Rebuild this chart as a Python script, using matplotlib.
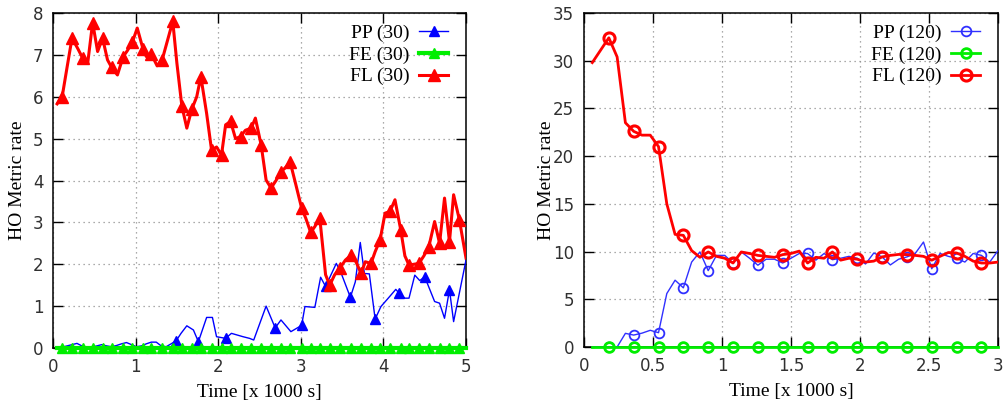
import numpy as np
import matplotlib
matplotlib.use("Agg")
import matplotlib.pyplot as plt
from matplotlib.lines import Line2D

# ---- left panel: 30 ----
fl30_t = [0.05, 0.11, 0.17, 0.23, 0.30, 0.36, 0.42, 0.48, 0.54, 0.60,
          0.66, 0.71, 0.78, 0.85, 0.90, 0.96, 1.02, 1.09, 1.13, 1.19,
          1.26, 1.32, 1.38, 1.45, 1.50, 1.56, 1.62, 1.68, 1.74, 1.79,
          1.86, 1.92, 1.98, 2.04, 2.09, 2.15, 2.21, 2.27, 2.33, 2.40,
          2.45, 2.52, 2.58, 2.64, 2.70, 2.76, 2.81, 2.87, 2.94, 3.01,
          3.06, 3.12, 3.17, 3.23, 3.30, 3.35, 3.41, 3.47, 3.54, 3.61,
          3.67, 3.73, 3.78, 3.85, 3.90, 3.96, 4.02, 4.08, 4.14, 4.21,
          4.26, 4.31, 4.37, 4.43, 4.49, 4.55, 4.62, 4.68, 4.74, 4.80,
          4.85, 4.92, 5.00]
fl30_v = [5.83, 5.99, 6.70, 7.40, 7.15, 6.92, 6.80, 7.77, 7.08, 7.40,
          6.88, 6.70, 6.52, 6.96, 7.10, 7.30, 7.64, 7.14, 6.96, 7.02,
          6.74, 6.87, 7.30, 7.80, 6.80, 5.78, 5.25, 5.70, 6.00, 6.48,
          5.60, 4.72, 4.80, 4.61, 5.33, 5.41, 5.00, 5.05, 5.20, 5.25,
          5.49, 4.85, 4.01, 3.82, 4.00, 4.21, 4.30, 4.45, 3.90, 3.34,
          3.10, 2.76, 2.90, 3.10, 1.75, 1.50, 1.75, 1.90, 2.10, 2.22,
          2.05, 1.78, 2.06, 2.02, 2.30, 2.58, 3.22, 3.26, 3.54, 2.82,
          2.20, 1.98, 2.00, 2.02, 2.20, 2.42, 3.02, 2.50, 3.58, 2.54,
          3.66, 3.06, 2.15]
fe30_v = [0.0] * len(fl30_t)

pp30_t = [0.05, 0.11, 0.17, 0.23, 0.29, 0.35, 0.41, 0.47, 0.53, 0.59,
          0.65, 0.71, 0.77, 0.83, 0.89, 0.95, 1.01, 1.07, 1.13, 1.19,
          1.25, 1.31, 1.37, 1.43, 1.49, 1.55, 1.62, 1.70, 1.76, 1.86,
          1.93, 1.98, 2.09, 2.16, 2.30, 2.38, 2.43, 2.58, 2.69, 2.76,
          2.88, 3.01, 3.05, 3.17, 3.24, 3.30, 3.43, 3.49, 3.60, 3.66,
          3.72, 3.77, 3.83, 3.90, 3.97, 4.05, 4.15, 4.19, 4.26, 4.31,
          4.38, 4.44, 4.50, 4.62, 4.68, 4.74, 4.80, 4.85, 5.00]
pp30_v = [0.00, 0.02, 0.05, 0.08, 0.11, 0.05, 0.00, 0.02, 0.05, 0.08,
          0.05, 0.03, 0.06, 0.10, 0.13, 0.08, 0.03, 0.05, 0.10, 0.14,
          0.14, 0.05, 0.03, 0.10, 0.17, 0.35, 0.53, 0.43, 0.15, 0.73,
          0.73, 0.27, 0.23, 0.35, 0.27, 0.23, 0.19, 1.00, 0.48, 0.67,
          0.39, 0.54, 0.99, 0.97, 1.69, 1.47, 2.02, 1.78, 1.21, 1.58,
          2.52, 1.78, 1.77, 0.69, 0.99, 1.17, 1.40, 1.31, 1.19, 1.19,
          1.74, 1.61, 1.70, 1.11, 1.07, 0.71, 1.39, 0.63, 2.10]
pp30_marks = [24, 28, 32, 38, 41, 45, 48, 53, 57, 62, 66]

# ---- right panel: 120 ----
t120 = [0.06, 0.12, 0.18, 0.24, 0.30, 0.36, 0.42, 0.48, 0.54, 0.60,
        0.66, 0.72, 0.78, 0.84, 0.90, 0.96, 1.02, 1.08, 1.14, 1.20,
        1.26, 1.32, 1.38, 1.44, 1.50, 1.56, 1.62, 1.68, 1.74, 1.80,
        1.86, 1.92, 1.98, 2.04, 2.10, 2.16, 2.22, 2.28, 2.34, 2.40,
        2.46, 2.52, 2.58, 2.64, 2.70, 2.76, 2.82, 2.88, 2.94, 3.00]
fl120_v = [29.8, 31.1, 32.4, 30.4, 23.5, 22.6, 22.2, 22.2, 21.0, 15.0,
           11.8, 11.7, 10.1, 9.4, 9.96, 9.5, 9.3, 8.8, 9.96, 9.8,
           9.6, 9.5, 9.4, 9.68, 9.8, 10.05, 8.8, 9.4, 9.3, 9.96,
           9.1, 9.3, 9.2, 8.9, 9.0, 9.44, 9.6, 9.7, 9.68, 9.6,
           9.5, 9.1, 9.5, 9.9, 9.85, 9.5, 9.0, 8.8, 8.8, 8.9]
pp120_v = [0.0, 0.0, 0.0, 0.0, 1.43, 1.25, 1.45, 1.75, 1.5, 5.6,
           7.0, 6.2, 8.9, 9.96, 8.0, 9.6, 9.6, 8.8, 9.96, 9.3,
           8.57, 9.2, 9.2, 8.8, 9.3, 9.8, 9.8, 9.1, 9.8, 9.15,
           9.3, 9.5, 9.3, 8.7, 9.85, 9.44, 8.6, 9.2, 9.44, 9.8,
           11.0, 8.2, 9.8, 9.5, 9.3, 8.9, 9.8, 9.6, 8.9, 10.1]
fe120_v = [0.0] * len(t120)

RED = "#ff0000"
GREEN = "#00ee00"
BLUE = "#0000ff"
BLUE2 = "#3030ff"
serif = ["Liberation Serif", "DejaVu Serif"]
tickfont = ["Liberation Sans Narrow", "DejaVu Sans"]

fig = plt.figure(figsize=(10.06, 4.04), dpi=100)
ax1 = fig.add_axes([53 / 1006, 1 - 348 / 404, 413 / 1006, 335 / 404])
ax2 = fig.add_axes([584 / 1006, 1 - 347 / 404, 414 / 1006, 334 / 404])


def style(ax):
    ax.grid(True, linestyle=(0, (1, 3)), color="#909090", linewidth=0.9)
    ax.set_axisbelow(True)
    ax.tick_params(direction="in", top=True, right=True, length=7, width=1,
                   labelsize=12, pad=7)
    for lab in ax.get_xticklabels() + ax.get_yticklabels():
        lab.set_family(tickfont)
        lab.set_color("#303030")
    for s in ax.spines.values():
        s.set_linewidth(1.1)
    ax.set_xlabel("Time [x 1000 s]", family=serif, fontsize=14)
    ax.set_ylabel("HO Metric rate", family=serif, fontsize=14)


# left
ax1.plot(pp30_t, pp30_v, color=BLUE, lw=1.0, marker="^", ms=7,
         markevery=pp30_marks, zorder=3)
ax1.plot(fl30_t, fe30_v, color=GREEN, lw=3.0, marker="^", ms=7,
         markevery=(1, 2), clip_on=False, zorder=4)
ax1.plot(fl30_t, fl30_v, color=RED, lw=2.2, marker="^", ms=9,
         markevery=(1, 2), zorder=5)
ax1.set_xlim(0, 5)
ax1.set_ylim(0, 8)
ax1.set_xticks(range(0, 6))
ax1.set_yticks(range(0, 9))
style(ax1)
h1 = [Line2D([], [], color=BLUE, lw=1.0, marker="^", ms=7),
      Line2D([], [], color=GREEN, lw=3.0, marker="^", ms=7),
      Line2D([], [], color=RED, lw=2.2, marker="^", ms=9)]
ax1.legend(h1, ["PP (30)", "FE (30)", "FL (30)"], loc="upper right",
           bbox_to_anchor=(0.985, 1.0), frameon=False, markerfirst=False,
           prop={"family": serif, "size": 14}, handlelength=1.5,
           handletextpad=0.5, labelspacing=0.2, borderaxespad=0.2)

# right
ax2.plot(t120, pp120_v, color=BLUE2, lw=1.0, marker="o", ms=7, mfc="none",
         mew=1.3, markevery=(2, 3), zorder=3)
ax2.plot(t120, fe120_v, color=GREEN, lw=2.0, marker="o", ms=7, mfc="none",
         mew=2.0, markevery=(2, 3), clip_on=False, zorder=4)
ax2.plot(t120, fl120_v, color=RED, lw=2.0, marker="o", ms=8, mfc="none",
         mew=2.2, markevery=(2, 3), zorder=5)
ax2.set_xlim(0, 3)
ax2.set_ylim(0, 35)
ax2.set_xticks([0, 0.5, 1, 1.5, 2, 2.5, 3])
ax2.set_xticklabels(["0", "0.5", "1", "1.5", "2", "2.5", "3"])
ax2.set_yticks(range(0, 36, 5))
style(ax2)
h2 = [Line2D([], [], color=BLUE2, lw=1.0, marker="o", ms=7, mfc="none", mew=1.3),
      Line2D([], [], color=GREEN, lw=2.0, marker="o", ms=7, mfc="none", mew=2.0),
      Line2D([], [], color=RED, lw=2.0, marker="o", ms=8, mfc="none", mew=2.2)]
ax2.legend(h2, ["PP (120)", "FE (120)", "FL (120)"], loc="upper right",
           bbox_to_anchor=(0.985, 1.0), frameon=False, markerfirst=False,
           prop={"family": serif, "size": 14}, handlelength=1.5,
           handletextpad=0.5, labelspacing=0.2, borderaxespad=0.2)

ax1.yaxis.set_label_coords(-0.066, 0.5)
ax2.yaxis.set_label_coords(-0.070, 0.5)
ax1.xaxis.set_label_coords(0.5, -0.107)
ax2.xaxis.set_label_coords(0.5, -0.107)

fig.savefig("out.png", dpi=100)
